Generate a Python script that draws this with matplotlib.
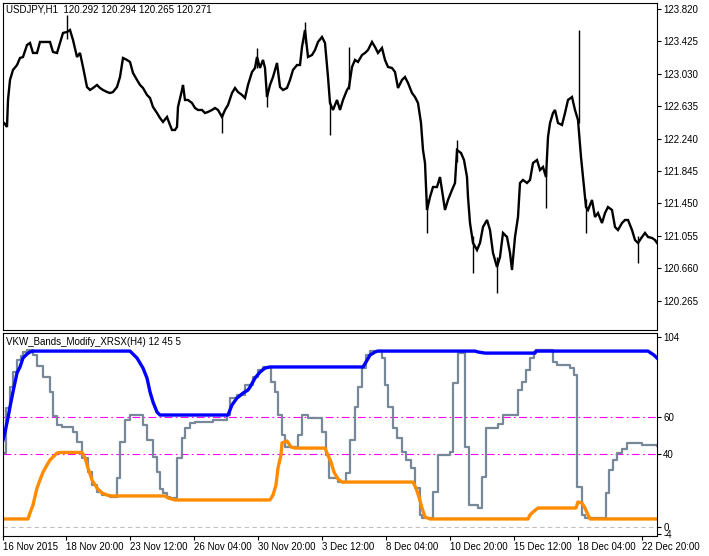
import numpy as np
import matplotlib.pyplot as plt

plt.rcParams['font.family'] = ['Liberation Sans', 'DejaVu Sans']

# USDJPY H1, close path (bar offset from first visible bar)
price_bar = [0, 2, 4, 5, 7, 10, 14, 17, 20, 24, 27, 30, 34, 37, 40, 44, 47, 50, 54, 57,
             60, 64, 67, 70, 74, 77, 80, 84, 87, 90, 94, 97, 100, 104, 107, 110, 114, 117,
             120, 124, 127, 130, 134, 137, 140, 144, 147, 150, 154, 157, 160, 164, 167,
             169, 172, 174, 175, 179, 180, 182, 185, 189, 192, 195, 199, 202, 205, 209,
             212, 215, 219, 222, 225, 229, 232, 235, 239, 242, 245, 249, 252, 254, 257,
             260, 262, 264, 267, 270, 274, 277, 280, 284, 287, 290, 294, 297, 299, 302,
             305, 309, 312, 315, 319, 322, 325, 327, 330, 334, 337, 340, 344, 346, 349,
             352, 355, 359, 362, 365, 369, 372, 375, 379, 382, 385, 389, 392, 395, 399,
             402, 405, 409, 412, 415, 418, 420, 422, 424, 427, 430, 434, 437, 440, 442,
             445, 449, 452, 454, 458, 461, 464, 465, 467, 470, 474, 477, 480, 484, 487,
             490, 494, 497, 500, 504, 507, 509, 512, 515, 517, 520, 524, 527, 530, 534,
             537, 540, 543, 545, 547, 550, 552, 555, 559, 562, 565, 569, 572, 575, 578,
             580, 583, 585, 589, 592, 595, 599, 602, 605, 609, 612, 615, 619, 622, 625,
             629, 632, 635, 639, 642, 645, 649, 652, 654]
price_close = [122.443, 122.418, 122.382, 122.711, 122.955, 123.077, 123.137, 123.223,
               123.235, 123.381, 123.406, 123.284, 123.284, 123.418, 123.418, 123.418,
               123.418, 123.296, 123.284, 123.406, 123.528, 123.540, 123.564, 123.442,
               123.235, 123.284, 123.113, 122.869, 122.833, 122.857, 122.894, 122.857,
               122.833, 122.808, 122.796, 122.808, 122.869, 122.991, 123.223, 123.199,
               123.174, 123.040, 122.955, 122.894, 122.857, 122.772, 122.735, 122.626,
               122.552, 122.491, 122.443, 122.504, 122.406, 122.345, 122.345, 122.382,
               122.626, 122.833, 122.894, 122.711, 122.711, 122.674, 122.613, 122.589,
               122.589, 122.552, 122.565, 122.589, 122.613, 122.589, 122.504, 122.589,
               122.650, 122.796, 122.857, 122.808, 122.772, 122.735, 122.894, 123.052,
               123.101, 123.235, 123.101, 123.199, 123.101, 122.747, 122.894, 122.991,
               123.162, 122.869, 122.833, 122.857, 122.955, 123.077, 123.137, 123.137,
               123.357, 123.564, 123.235, 123.259, 123.320, 123.418, 123.479, 123.406,
               122.991, 122.674, 122.589, 122.711, 122.589, 122.711, 122.833, 122.869,
               123.113, 123.199, 123.174, 123.259, 123.284, 123.320, 123.418, 123.357,
               123.284, 123.345, 123.199, 123.113, 123.101, 123.052, 122.857, 122.955,
               122.991, 122.918, 122.796, 122.747, 122.674, 122.430, 122.101, 121.943,
               121.370, 121.528, 121.650, 121.650, 121.772, 121.528, 121.370, 121.492,
               121.614, 121.699, 122.101, 122.065, 121.979, 121.772, 121.528, 121.211,
               120.968, 120.882, 120.968, 121.163, 121.248, 121.126, 120.846, 120.675,
               120.797, 121.090, 121.041, 120.846, 120.638, 121.041, 121.285, 121.699,
               121.736, 121.699, 121.736, 121.943, 121.979, 121.857, 121.894, 121.772,
               122.260, 122.430, 122.552, 122.589, 122.430, 122.406, 122.552, 122.711,
               122.747, 122.589, 122.467, 122.016, 121.772, 121.406, 121.370, 121.492,
               121.285, 121.333, 121.211, 121.333, 121.406, 121.370, 121.163, 121.126,
               121.211, 121.248, 121.248, 121.126, 121.004, 120.968, 121.041, 121.090,
               121.041, 121.029, 121.004, 120.968]

# long wicks
spike_bar = [64, 219, 254, 264, 302, 327, 346, 424, 454, 470, 494, 543, 576, 583, 635]
spike_high = [123.747, 122.550, 123.345, 122.850, 123.662, 122.700, 123.357, 121.500,
              122.223, 121.050, 120.800, 121.850, 123.564, 121.500, 121.050]
spike_low = [123.450, 122.309, 123.100, 122.626, 123.400, 122.284, 122.850, 121.090,
             121.950, 120.602, 120.358, 121.394, 122.430, 121.090, 120.724]

price_ticks = [120.265, 120.660, 121.055, 121.450, 121.845, 122.240, 122.635, 123.030,
               123.425, 123.820]

# VKW_Bands_Modify_XRSX
xrsx_bar = [0, 3, 7, 10, 14, 18, 20, 24, 30, 34, 40, 47, 50, 54, 59, 70, 74, 79, 85, 89,
            94, 99, 107, 114, 117, 122, 127, 140, 144, 150, 154, 157, 160, 164, 167, 174,
            179, 182, 187, 192, 210, 224, 227, 234, 242, 250, 255, 260, 268, 272, 275,
            279, 282, 295, 299, 305, 319, 323, 326, 335, 343, 347, 352, 355, 359, 363,
            367, 379, 382, 385, 390, 394, 399, 403, 408, 412, 417, 419, 430, 435, 447,
            450, 455, 462, 466, 475, 479, 483, 495, 500, 515, 519, 523, 527, 531, 533,
            550, 554, 567, 571, 574, 579, 582, 603, 606, 610, 614, 619, 624, 639, 654]
xrsx_val = [40.5, 65, 76.6, 84.8, 91.4, 93.6, 95.8, 96.9, 94, 88, 82, 74, 61, 56, 54.7,
            52, 46.5, 37.8, 30, 23, 19, 17.5, 16.4, 27, 46.5, 58.6, 61.3, 56, 47.6, 38.3,
            30, 21, 18.6, 16.4, 15.9, 37.8, 48.7, 54, 57, 57.5, 58.6, 61.3, 70.6, 72,
            77.7, 82, 86, 87.6, 79.4, 74, 61.3, 50.4, 43.8, 50.4, 61.3, 59.7, 52, 39.4,
            26.8, 24.6, 29.6, 47.6, 65.7, 76.6, 87, 94.1, 96.3, 92.5, 77.7, 65.7, 54.2,
            48.7, 41, 36.7, 32.3, 21.3, 6.6, 4.9, 19.2, 39.4, 41, 78.8, 95.2, 43.8, 12,
            10.4, 27.4, 54.2, 56.4, 61.3, 75, 79.4, 86, 92.5, 95.8, 96.9, 90.3, 88.7, 87,
            83.2, 21.9, 6.6, 4.9, 18.6, 31.2, 36.7, 40.5, 42.7, 46, 44.9, 44.3]

upper_bar = [0, 2, 5, 7, 10, 14, 17, 20, 24, 27, 30, 127, 134, 140, 144, 147, 150, 154,
             157, 225, 229, 234, 240, 245, 247, 252, 257, 262, 267, 360, 363, 367, 372,
             375, 472, 475, 482, 532, 533, 645, 648, 651, 654]
upper_val = [47.6, 52, 59.7, 65.7, 74, 84.3, 87.6, 92.5, 94.7, 95.8, 96.3, 96.3, 92.5, 87,
             81.5, 74, 68.4, 62.9, 61.3, 61.3, 66.8, 70.6, 73.3, 75, 76.6, 81.5, 84.8, 87,
             87.6, 87.6, 90.3, 94.1, 95.8, 96.3, 96.3, 95.8, 95.2, 95.2, 96.3, 96.3, 95.2,
             94.1, 92.5]

lower_bar = [0, 25, 27, 30, 34, 37, 40, 44, 47, 50, 54, 57, 79, 82, 85, 89, 94, 99, 104,
             107, 162, 165, 172, 267, 270, 273, 275, 278, 279, 284, 288, 292, 322, 324,
             328, 331, 335, 339, 410, 413, 416, 419, 422, 427, 525, 527, 530, 535, 573,
             575, 579, 582, 585, 587, 654]
lower_val = [4.4, 4.4, 7.7, 12, 21.3, 25.7, 30, 33.9, 36.7, 38.3, 40.5, 40.8, 40.8, 37.8,
             32.3, 25.7, 21.3, 18.6, 17.5, 17, 17, 15.9, 14.8, 14.8, 17.5, 23, 32.3, 39.4,
             46, 47.1, 43.8, 43.2, 43.2, 40.5, 35.6, 30, 26.3, 24.6, 24.6, 21.3, 16.4,
             10.4, 5.5, 4.4, 4.4, 6.6, 8.2, 10.4, 10.4, 13.7, 13.1, 10.4, 6.6, 4.4, 4.4]

levels = [60, 40]
ind_ticks = [104, 60, 40, 0, -4]

time_ticks = [0, 63, 127, 191, 255, 319, 383, 447, 511, 575, 639]
time_labels = ['16 Nov 2015', '18 Nov 20:00', '23 Nov 12:00', '26 Nov 04:00',
               '30 Nov 20:00', '3 Dec 12:00', '8 Dec 04:00', '10 Dec 20:00',
               '15 Dec 12:00', '18 Dec 04:00', '22 Dec 20:00']

W, H = 709, 556
fig = plt.figure(figsize=(W / 100, H / 100), dpi=100)
ax1 = fig.add_axes([3 / W, 1 - 330 / H, 654 / W, 327 / H])
ax2 = fig.add_axes([3 / W, 1 - 536 / H, 654 / W, 203 / H])

# price panel
ax1.plot(price_bar, price_close, color='black', lw=1.7, solid_joinstyle='miter')
ax1.vlines(spike_bar, spike_low, spike_high, color='black', lw=1.0)
ax1.set_xlim(0, 654)
ax1.set_ylim(119.907, 123.893)
ax1.set_xticks([])
ax1.yaxis.tick_right()
ax1.set_yticks(price_ticks)
ax1.set_yticklabels(['%.3f' % t for t in price_ticks])
ax1.text(3 / 654, 1 - 6.5 / 327, 'USDJPY,H1  120.292 120.294 120.265 120.271',
         transform=ax1.transAxes, fontsize=7, va='center', ha='left')

# indicator panel
ax2.axhline(0, color='#c0c0c0', lw=0.8, dashes=(4, 3))
for lv in levels:
    ax2.axhline(lv, color='#ff00ff', lw=0.8, dashes=(7, 3, 1.5, 3))
ax2.step(xrsx_bar, xrsx_val, where='post', color='#778899', lw=1.6)
ax2.plot(upper_bar, upper_val, color='#0000ff', lw=2.4)
ax2.plot(lower_bar, lower_val, color='#ff8c00', lw=2.4)
ax2.set_xlim(0, 654)
ax2.set_ylim(-4.93, 106.2)
ax2.yaxis.tick_right()
ax2.set_yticks(ind_ticks)
ax2.set_yticklabels([str(t) for t in ind_ticks])
ax2.set_xticks(time_ticks)
ax2.set_xticklabels(time_labels)
for lb in ax2.get_xticklabels():
    lb.set_horizontalalignment('left')
ax2.text(3 / 654, 1 - 9 / 203, 'VKW_Bands_Modify_XRSX(H4) 12 45 5',
         transform=ax2.transAxes, fontsize=7, va='center', ha='left')

for ax in (ax1, ax2):
    for s in ax.spines.values():
        s.set_linewidth(0.8)
    ax.tick_params(direction='out', length=3, width=0.8, labelsize=7, pad=1.5)

fig.savefig('out.png', dpi=100)
